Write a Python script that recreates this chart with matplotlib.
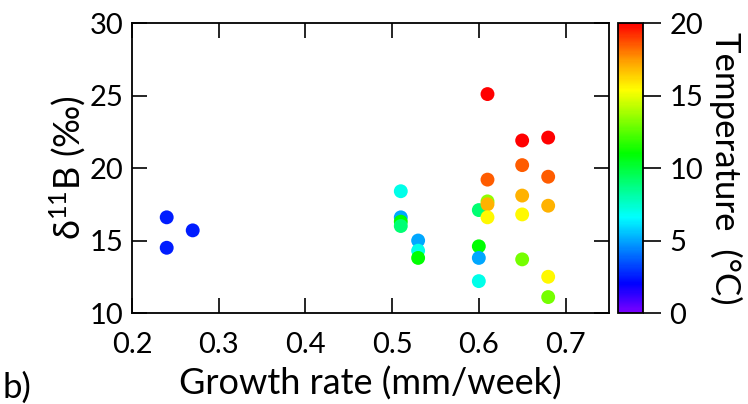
import numpy as np
import matplotlib
matplotlib.use("Agg")
import matplotlib.pyplot as plt
from matplotlib.colors import LinearSegmentedColormap, Normalize

plt.rcParams["font.family"] = ["Lato", "DejaVu Sans"]
plt.rcParams["mathtext.fontset"] = "custom"
plt.rcParams["mathtext.rm"] = "Lato"

# growth rate (mm/week), delta11B (permil), temperature (degC)
growth = [0.24, 0.24, 0.27,
          0.51, 0.51, 0.51, 0.51,
          0.53, 0.53, 0.53,
          0.60, 0.60, 0.60, 0.60,
          0.61, 0.61, 0.61, 0.61, 0.61,
          0.65, 0.65, 0.65, 0.65, 0.65,
          0.68, 0.68, 0.68, 0.68, 0.68]
d11b = [16.6, 14.5, 15.7,
        18.4, 16.6, 16.3, 16.0,
        15.0, 14.3, 13.8,
        17.1, 14.6, 13.8, 12.2,
        25.1, 19.2, 17.7, 17.5, 16.6,
        21.9, 20.2, 18.1, 16.8, 13.7,
        22.1, 19.4, 17.4, 12.5, 11.1]
temp = [2.5, 2.5, 2.5,
        7.0, 5.0, 11.0, 9.0,
        5.0, 7.0, 11.0,
        9.0, 11.0, 5.0, 7.0,
        20.0, 18.5, 13.5, 17.0, 15.5,
        20.0, 18.5, 17.0, 15.5, 13.0,
        20.0, 18.5, 17.0, 15.5, 13.0]

cmap = LinearSegmentedColormap.from_list("igor_rainbow", [
    (0.00, "#7a00ff"), (0.10, "#0000ff"), (0.33, "#00ffff"),
    (0.55, "#00ff00"), (0.77, "#ffff00"), (0.87, "#ffa000"), (1.00, "#ff0000")])
norm = Normalize(0, 20)

fig = plt.figure(figsize=(7.48, 4.04), dpi=100)
ax = fig.add_axes([0.1765, 0.2252, 0.6375, 0.7178])
cax = fig.add_axes([0.826, 0.2252, 0.0334, 0.7178])

sc = ax.scatter(growth, d11b, c=temp, cmap=cmap, norm=norm, s=100, linewidths=0, zorder=3)

ax.set_xlim(0.2, 0.75)
ax.set_ylim(10, 30)
ax.set_xticks([0.2, 0.3, 0.4, 0.5, 0.6, 0.7])
ax.set_xticklabels(["0.2", "0.3", "0.4", "0.5", "0.6", "0.7"])
ax.set_yticks([10, 15, 20, 25, 30])
ax.tick_params(direction="in", top=True, right=True, length=11, width=1.2,
               labelsize=21, pad=6)
ax.tick_params(axis="x", pad=14)
for s in ax.spines.values():
    s.set_linewidth(1.3)
ax.set_xlabel("Growth rate (mm/week)", fontsize=26, labelpad=6)
ax.set_ylabel(r"$\mathrm{\delta^{11}}$B (‰)", fontsize=26, labelpad=1)

cb = fig.colorbar(sc, cax=cax)
cb.set_ticks([0, 5, 10, 15, 20])
cb.ax.tick_params(direction="out", length=13, width=1.2, labelsize=21, pad=6)
cb.outline.set_linewidth(1.3)
cb.set_label("Temperature  (°C)", fontsize=25, rotation=270, labelpad=28)

fig.text(0.003, 0.015, "b)", fontsize=25, ha="left", va="baseline")

fig.savefig("out.png", dpi=100)
